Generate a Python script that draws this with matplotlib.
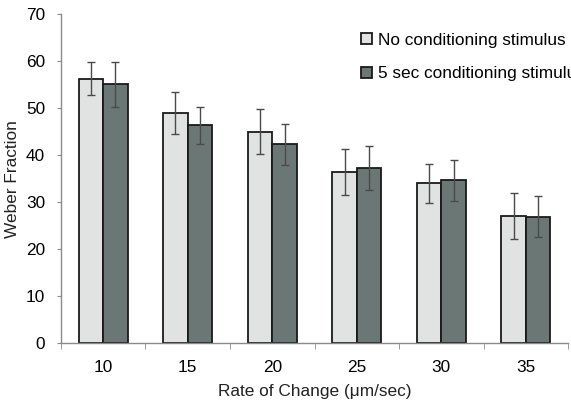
import numpy as np
import matplotlib
matplotlib.use('Agg')
import matplotlib.pyplot as plt

plt.rcParams['font.family'] = ['Liberation Sans', 'DejaVu Sans']

rates = ['10', '15', '20', '25', '30', '35']
no_cond = [56.3, 48.9, 45.0, 36.3, 34.0, 27.0]
no_cond_err = [3.6, 4.5, 4.8, 4.9, 4.2, 4.9]
cond_5s = [55.1, 46.3, 42.3, 37.3, 34.6, 26.9]
cond_5s_err = [4.8, 3.9, 4.4, 4.7, 4.3, 4.3]

light = '#e0e3e2'
dark = '#6b7774'
axis_grey = '#8a8a8a'
fs = 12.4

fig = plt.figure(figsize=(5.71, 4.04), dpi=100)
ax = fig.add_axes([0.1068, 0.151, 0.888, 0.814])

x = np.arange(len(rates))
w = 0.29
err_kw = dict(ecolor='#4a4a4a', elinewidth=1.0, capsize=3, capthick=1.0)
ax.bar(x - w / 2, no_cond, w, yerr=no_cond_err, color=light, edgecolor='#1a1a1a',
       linewidth=1.3, error_kw=err_kw, label='No conditioning stimulus', zorder=2)
ax.bar(x + w / 2, cond_5s, w, yerr=cond_5s_err, color=dark, edgecolor='#1a1a1a',
       linewidth=1.3, error_kw=err_kw, label='5 sec conditioning stimulus', zorder=2)

ax.set_xlim(-0.5, len(rates) - 0.5)
ax.set_ylim(0, 70)
ax.set_yticks(range(0, 71, 10))
ax.set_xticks(x)
ax.set_xticklabels(rates)
# boundary ticks between categories
ax.set_xticks(np.arange(-0.5, len(rates)), minor=True)
ax.tick_params(axis='x', which='major', length=0, pad=12, labelsize=fs)
ax.tick_params(axis='x', which='minor', length=4, color=axis_grey, direction='out')
ax.tick_params(axis='y', length=3, color=axis_grey, labelsize=fs, pad=8.5)

for s in ['top', 'right']:
    ax.spines[s].set_visible(False)
for s in ['left', 'bottom']:
    ax.spines[s].set_color(axis_grey)
    ax.spines[s].set_linewidth(1.0)

ax.set_xlabel('Rate of Change (\u03bcm/sec)', fontsize=fs, labelpad=7, color='#222222')
ax.set_ylabel('Weber Fraction', fontsize=fs, labelpad=4, color='#222222')

leg = ax.legend(loc='upper left', bbox_to_anchor=(0.579, 0.965), frameon=False,
                fontsize=fs, handlelength=0.6, handleheight=0.6, handletextpad=0.35,
                labelspacing=1.1, borderaxespad=0)

fig.savefig('out.png', dpi=100)
